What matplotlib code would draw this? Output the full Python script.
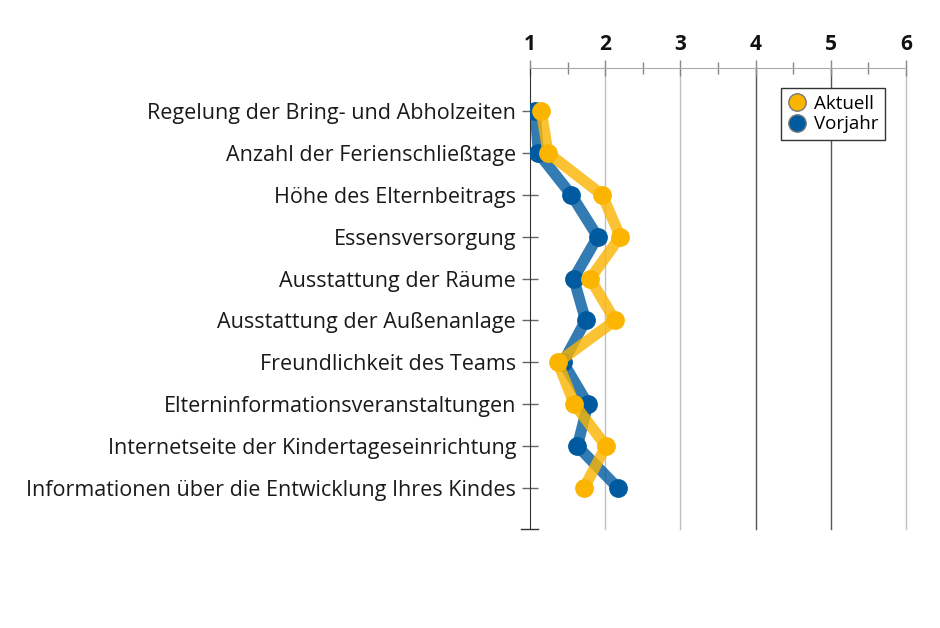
import numpy as np
import matplotlib
matplotlib.use('Agg')
import matplotlib.pyplot as plt

plt.rcParams['font.family'] = ['Open Sans', 'DejaVu Sans']

# ── data ─────────────────────────────────────────────────────────────────────
categories = [
    "Regelung der Bring- und Abholzeiten",
    "Anzahl der Ferienschließtage",
    "Höhe des Elternbeitrags",
    "Essensversorgung",
    "Ausstattung der Räume",
    "Ausstattung der Außenanlage",
    "Freundlichkeit des Teams",
    "Elterninformationsveranstaltungen",
    "Internetseite der Kindertageseinrichtung",
    "Informationen über die Entwicklung Ihres Kindes",
]
aktuell = [1.15, 1.24, 1.96, 2.20, 1.80, 2.13, 1.37, 1.59, 2.01, 1.72]
vorjahr = [1.07, 1.11, 1.55, 1.90, 1.58, 1.74, 1.44, 1.77, 1.63, 2.17]
x_ticks = [1, 2, 3, 4, 5, 6]

YELLOW = '#fbb500'
BLUE = '#005aa0'

# ── plot ─────────────────────────────────────────────────────────────────────
fig = plt.figure(figsize=(9.4, 6.28), dpi=100)
ax = fig.add_axes([530/940, 1 - 529/628, 376/940, 461/628])

y = np.arange(len(categories))

# grid lines (some darker than others, as in the original)
grid_cols = {2: '#c0c0c0', 3: '#c0c0c0', 4: '#555555', 5: '#555555', 6: '#c0c0c0'}
for gx, c in grid_cols.items():
    ax.axvline(gx, color=c, lw=1, zorder=0, clip_on=False)

ax.plot(vorjahr, y, color=BLUE, alpha=0.8, lw=8, solid_capstyle='butt', zorder=2)
ax.plot(vorjahr, y, 'o', color=BLUE, ms=12.5, zorder=3, label='Vorjahr')
ax.plot(aktuell, y, color=YELLOW, alpha=0.8, lw=8, solid_capstyle='butt', zorder=4)
ax.plot(aktuell, y, 'o', color=YELLOW, ms=12.5, zorder=5, label='Aktuell')

ax.set_xlim(1, 6)
ax.set_ylim(9.98, -1.03)

ax.xaxis.tick_top()
ax.set_xticks(x_ticks)
ax.set_xticklabels([str(t) for t in x_ticks], fontsize=15, fontweight='bold',
                   color='#111111')
ax.set_xticks([1.5, 2.5, 3.5, 4.5, 5.5], minor=True)
ax.tick_params(axis='x', which='major', direction='inout', length=12,
               width=1, color='#888888', pad=3)
ax.tick_params(axis='x', which='minor', direction='inout', length=9,
               width=1, color='#888888')

ax.set_yticks(y)
ax.set_yticklabels(categories, fontsize=15.5, color='#1a1a1a')
ax.tick_params(axis='y', direction='inout', length=12, width=1,
               color='#666666', pad=4)

for s in ['right', 'bottom']:
    ax.spines[s].set_visible(False)
ax.spines['top'].set_color('#aaaaaa')
ax.spines['left'].set_color('#333333')

# bottom stub
ax.plot([-0.024, 0.022], [9.98, 9.98], color='#333333', lw=1,
        transform=ax.get_yaxis_transform(), clip_on=False)

handles, labels = ax.get_legend_handles_labels()
leg = ax.legend(handles[::-1], labels[::-1], loc='upper right',
                bbox_to_anchor=(885/940, 1 - 88/628), bbox_transform=fig.transFigure,
                borderaxespad=0, fontsize=13.5, frameon=True, fancybox=False,
                framealpha=1, edgecolor='#333333', handletextpad=0.4,
                borderpad=0.35, labelspacing=0.15, handlelength=1.0,
                markerscale=1.0)
leg.get_frame().set_linewidth(1)
for h in leg.legend_handles:
    h.set_markeredgecolor('#777777')

plt.savefig('out.png', dpi=100)
